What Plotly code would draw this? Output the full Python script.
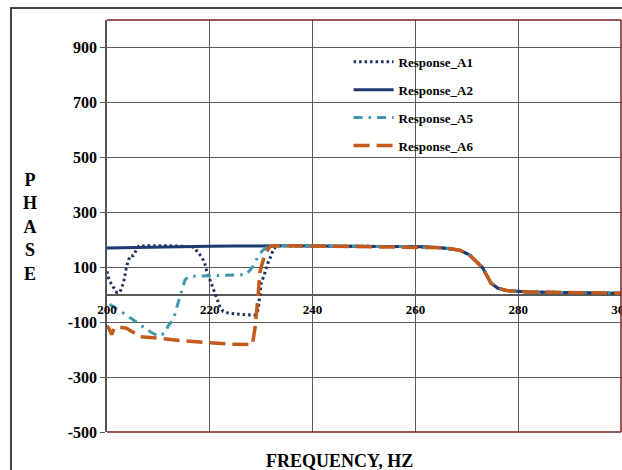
import plotly.graph_objects as go

# ---- data ----
tail_f = [236, 240, 250, 258, 262, 265, 267, 268.6, 270.5, 271.8, 273.1, 273.8, 274.7, 276, 277.7, 282, 290, 300]
tail_v = [178, 177, 176, 175, 174, 171, 167, 162, 145, 121, 97, 73, 42, 24, 15, 10, 8, 5]

a1_f = [200, 200.3, 200.8, 201.4, 201.9, 202.5, 203.2, 203.8, 204.5, 205.1, 205.6, 206.1, 208, 212, 216.5,
        217.1, 217.7, 218.4, 219.0, 219.4, 220.0, 220.65, 221.3, 221.95, 222.6, 223.6, 226, 228.8,
        229.4, 229.7, 230.0, 230.7, 231.3, 232.0, 232.3, 233]
a1_v = [85, 61, 40, 22, 8, 8, 42, 103, 142, 142, 158, 176, 178, 178, 175,
        170, 152, 139, 115, 85, 55, 24, -12, -42, -61, -67, -72, -75,
        -55, -6, 42, 79, 115, 145, 164, 178]

a2_f = [200, 205, 210, 215, 220, 225, 230, 233]
a2_v = [170, 172, 174, 175, 176, 177, 178, 178]

a5_f = [200.5, 201.9, 202.5, 204.8, 207.1, 208.4, 210, 211.3, 211.9, 212.9, 214.2, 215.2, 216.1, 219.7, 224,
        227.1, 228.4, 229.4, 230.1, 231, 233]
a5_v = [-35, -50, -58, -88, -118, -135, -151, -139, -113, -91, -6, 55, 67, 69, 71,
        73, 103, 139, 158, 172, 178]

a6_f = [200, 200.45, 200.9, 201.4, 202.2, 203.8, 205.8, 206.4, 209.7, 214.2, 220, 223.9, 228.3,
        228.8, 229.4, 229.7, 230.4, 230.7, 231.7, 233]
a6_v = [-113, -125, -145, -122, -118, -122, -145, -153, -158, -167, -175, -180, -182,
        -120, -6, 79, 127, 145, 176, 178]

names = ["Response_A1", "Response_A2", "Response_A5", "Response_A6"]
colors = ["#1c2f5e", "#1c3a70", "#3d98b0", "#c45a1c"]
x_ticks = [200, 220, 240, 260, 280, 300]
y_ticks = [-500, -300, -100, 100, 300, 500, 700, 900]

FONT = "Liberation Serif"

fig = go.Figure()
series = [(a1_f, a1_v, "2.5px,3px", 3), (a2_f, a2_v, "solid", 3),
          (a5_f, a5_v, "9px,6px,2.5px,6px", 3), (a6_f, a6_v, "16px,7px", 3.5)]
for i, (f, v, dash, w) in enumerate(series):
    fig.add_trace(go.Scatter(
        x=f + tail_f, y=v + tail_v, mode="lines", name=names[i],
        legendgroup=names[i],
        line=dict(color=colors[i], width=w, dash=dash),
    ))

fig.update_layout(
    width=622, height=470,
    margin=dict(l=107, r=1, t=20, b=38),
    paper_bgcolor="white", plot_bgcolor="white",
    font=dict(family=FONT, color="black"),
    showlegend=True,
    legend=dict(x=0.470, y=0.935, xanchor="left", yanchor="top",
                bgcolor="rgba(0,0,0,0)", borderwidth=0,
                font=dict(family=FONT, size=13, color="black", weight="bold"),
                tracegroupgap=8, itemwidth=40),
    xaxis=dict(range=[200, 300], tickvals=x_ticks, ticktext=[str(t) for t in x_ticks],
               anchor="free", position=1/3, showline=False, ticks="",
               ticklabelstandoff=5, ticklabeloverflow="allow",
               showgrid=True, gridcolor="#5a5a5a", gridwidth=1.2, zeroline=False,
               tickfont=dict(family=FONT, size=13, color="black", weight="bold"),
               automargin=False),
    yaxis=dict(range=[-500, 1000], tickvals=y_ticks, ticktext=[str(t) for t in y_ticks],
               ticks="outside", ticklen=5,
               tickcolor="#555", showline=True, linecolor="#555", linewidth=1.5,
               showgrid=True, gridcolor="#5a5a5a", gridwidth=1.2,
               zeroline=True, zerolinecolor="#5a5a5a", zerolinewidth=1.5,
               tickfont=dict(family=FONT, size=16, color="black", weight="bold"),
               automargin=False),
)

# plot-area border (top, right, bottom) in dark red
red = "#7a1f1f"
fig.add_shape(type="line", xref="paper", yref="paper", x0=0, x1=1, y0=1, y1=1, line=dict(color=red, width=1.5))
fig.add_shape(type="line", xref="paper", yref="paper", x0=1, x1=1, y0=0, y1=1, line=dict(color=red, width=1.5))
fig.add_shape(type="line", xref="paper", yref="paper", x0=0, x1=1, y0=0, y1=0, line=dict(color=red, width=1.5))
# outer chart frame
fig.add_shape(type="rect", xref="paper", yref="paper", x0=-0.1868, x1=1.1, y0=-0.2, y1=1.029,
              line=dict(color="#444", width=2), layer="below")

fig.add_annotation(xref="paper", yref="paper", x=-0.1498, y=0.497, xanchor="center", yanchor="middle",
                   text="P<br>H<br>A<br>S<br>E", showarrow=False,
                   font=dict(family=FONT, size=18, color="black", weight="bold"))
fig.add_annotation(xref="paper", yref="paper", x=0.453, y=-0.0712, xanchor="center", yanchor="middle",
                   text="FREQUENCY, HZ", showarrow=False,
                   font=dict(family=FONT, size=18, color="black", weight="bold"))

fig.write_html("out.html", config={"displayModeBar": False},
               post_script="document.body.style.margin='0';document.body.style.overflow='hidden';")
